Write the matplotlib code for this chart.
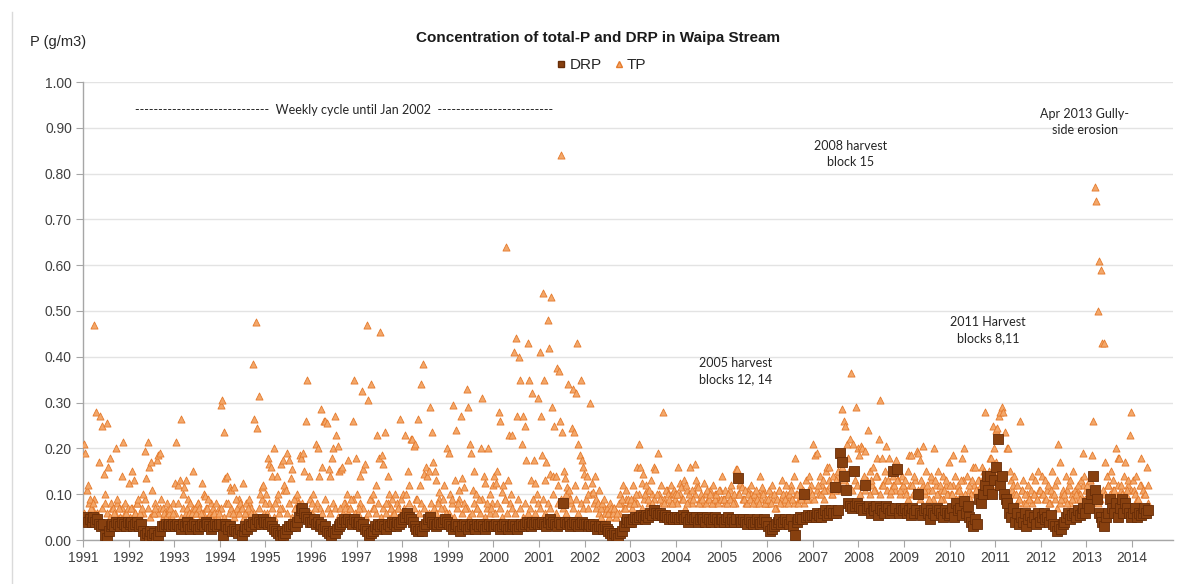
import numpy as np
import matplotlib
matplotlib.use("Agg")
import matplotlib.pyplot as plt
from matplotlib.lines import Line2D

# ---------------- data (g/m3), values in time order within each year ----------------
years = list(range(1991, 2015))
last_year_span = 0.38   # sampling in 2014 ends around April

# TP: main samples (peaks and mid values)
TP_1991 = [.21,.19,.11,.12,.09,.07,.08,.47,.28,.06,.17,.27,.25,.145,.10,.255,.16,.18,.08,.07,.06,.20,.09,.07,.05,.14,.215,.08,.06,.07]
TP_1992 = [.125,.07,.15,.13,.06,.08,.09,.06,.07,.10,.195,.135,.215,.16,.17,.11,.06,.07,.175,.185,.19,.09,.07,.06,.05,.08,.06,.07,.05,.06]
TP_1993 = [.125,.215,.12,.13,.265,.10,.115,.13,.07,.06,.08,.06,.15,.07,.06,.08,.07,.06,.125,.10,.095,.07,.09,.06,.05,.07,.06,.08,.05,.06]
TP_1994 = [.295,.305,.235,.135,.14,.08,.115,.11,.06,.115,.09,.07,.06,.08,.07,.125,.06,.08,.07,.09,.06,.385,.265,.475,.245,.315,.10,.115,.12,.08]
TP_1995 = [.10,.18,.165,.16,.14,.20,.08,.14,.10,.07,.165,.175,.12,.11,.19,.175,.135,.155,.09,.07,.10,.08,.185,.18,.19,.15,.26,.35,.14,.09]
TP_1996 = [.08,.10,.07,.21,.20,.14,.285,.16,.26,.26,.255,.155,.14,.18,.20,.27,.23,.205,.15,.155,.16,.08,.07,.10,.175,.07,.09,.26,.35,.18]
TP_1997 = [.10,.07,.14,.325,.155,.165,.47,.305,.09,.34,.10,.07,.12,.23,.18,.455,.185,.165,.235,.08,.14,.10,.07,.09,.06,.10,.08,.07,.265,.09]
TP_1998 = [.10,.23,.10,.15,.12,.22,.22,.205,.21,.09,.265,.12,.34,.385,.145,.16,.14,.15,.29,.235,.17,.15,.13,.08,.105,.07,.09,.12,.06,.20]
TP_1999 = [.19,.10,.09,.295,.13,.24,.08,.11,.27,.135,.115,.07,.33,.29,.21,.19,.11,.15,.10,.07,.09,.20,.31,.14,.125,.08,.20,.10,.07,.12]
TP_2000 = [.14,.125,.15,.28,.26,.105,.12,.09,.64,.13,.23,.10,.23,.41,.44,.27,.40,.35,.21,.27,.25,.175,.43,.35,.13,.32,.175,.125,.10,.31]
TP_2001 = [.41,.27,.185,.54,.35,.13,.17,.48,.42,.145,.53,.29,.14,.25,.14,.375,.12,.37,.26,.84,
           .235,.15,.135,.10,.115,.34,.11,.09,.245,.33,.235,.12,.32,.43,.21,.185,.35,.175,.16,.145]
TP_2002 = [.12,.14,.10,.30,.125,.105,.14,.09,.08,.11,.07,.08,.09,.06,.07,.06,.08,.07,.06,.07,.05,.06,.08,.10,.09,.12,.07,.11,.09,.08]
TP_2003 = [.09,.12,.08,.10,.16,.21,.16,.125,.145,.10,.12,.09,.11,.13,.08,.16,.155,.10,.19,.09,.12,.28,.08,.11,.10,.09,.12,.08,.11,.10]
TP_2004 = [.10,.16,.125,.115,.09,.13,.12,.08,.10,.16,.11,.09,.165,.13,.115,.08,.10,.09,.125,.08,.11,.09,.10,.08,.12,.09,.10,.08,.11,.09]
TP_2005 = [.14,.09,.11,.08,.10,.09,.12,.08,.10,.155,.155,.10,.125,.115,.09,.11,.08,.10,.09,.12,.08,.10,.11,.09,.08,.14,.115,.10,.08,.09]
TP_2006 = [.09,.11,.08,.12,.10,.07,.09,.11,.08,.13,.10,.09,.12,.08,.10,.11,.09,.14,.18,.10,.08,.12,.09,.11,.10,.13,.09,.14,.11,.10]
TP_2007 = [.21,.185,.19,.12,.14,.10,.13,.11,.15,.16,.16,.12,.10,.14,.11,.13,.15,.12,.17,.285,.26,.25,.21,.18,.22,.365,.21,.15,.29,.20]
TP_2008 = [.185,.205,.20,.14,.195,.12,.24,.15,.13,.16,.11,.14,.18,.22,.305,.18,.12,.15,.205,.13,.18,.11,.14,.12,.175,.13,.15,.11,.14,.12]
TP_2009 = [.13,.10,.15,.185,.185,.12,.14,.10,.195,.19,.175,.13,.205,.11,.15,.12,.09,.14,.11,.20,.13,.10,.15,.12,.09,.14,.11,.13,.10,.17]
TP_2010 = [.12,.10,.185,.14,.09,.12,.11,.13,.18,.20,.10,.14,.12,.09,.13,.16,.16,.11,.13,.10,.12,.16,.15,.28,.14,.12,.18,.18,.25,.20]
TP_2011 = [.24,.245,.27,.28,.29,.28,.235,.20,.20,.15,.13,.12,.14,.10,.12,.09,.26,.11,.13,.10,.08,.12,.09,.11,.14,.10,.13,.09,.15,.11]
TP_2012 = [.14,.10,.13,.09,.12,.08,.11,.15,.10,.12,.13,.21,.17,.09,.11,.10,.14,.08,.12,.13,.09,.15,.11,.10,.12,.09,.13,.19,.14,.11]
TP_2013 = [.12,.10,.13,.185,.26,.77,.74,.50,.61,.59,.43,.43,.17,.14,.12,.10,.15,.13,.11,.20,.18,.18,.12,.10,.14,.17,.11,.13,.23,.28]
TP_2014 = [.13,.10,.14,.09,.12,.18,.11,.10,.16,.12]

# TP: additional samples in the dense low cloud
TPB_1991 = [.06,.05,.08,.07,.09,.06,.05,.07,.08,.06,.05,.07,.06,.08,.05,.07,.06,.05]
TPB_1992 = [.05,.07,.06,.08,.05,.06,.09,.07,.05,.06,.08,.06,.07,.05,.06,.07,.05,.08]
TPB_1993 = [.06,.08,.05,.07,.06,.09,.05,.07,.06,.08,.05,.06,.07,.05,.08,.06,.05,.07]
TPB_1994 = [.07,.05,.08,.06,.07,.05,.06,.09,.07,.05,.06,.08,.07,.06,.05,.07,.09,.06]
TPB_1995 = [.06,.08,.07,.05,.09,.06,.07,.11,.06,.08,.05,.07,.09,.06,.08,.07,.05,.06]
TPB_1996 = [.06,.05,.08,.07,.06,.09,.07,.06,.08,.07,.05,.07,.06,.08,.06,.07,.09,.06]
TPB_1997 = [.06,.08,.07,.05,.06,.09,.07,.06,.08,.05,.07,.06,.08,.07,.06,.05,.07,.06]
TPB_1998 = [.07,.06,.08,.05,.07,.09,.06,.08,.07,.05,.06,.08,.07,.06,.09,.05,.07,.06]
TPB_1999 = [.06,.08,.05,.07,.09,.06,.08,.07,.05,.06,.08,.07,.06,.09,.05,.07,.06,.08]
TPB_2000 = [.06,.08,.07,.05,.09,.06,.08,.07,.06,.09,.07,.05,.08,.06,.07,.09,.06,.08]
TPB_2001 = [.07,.09,.06,.08,.07,.10,.06,.08,.09,.07,.06,.10,.08,.07,.09,.06,.08,.07]
TPB_2002 = [.09,.07,.10,.08,.07,.06,.05,.07,.06,.05,.06,.07,.05,.06,.08,.07,.09,.08]
TPB_2003 = [.07,.09,.08,.10,.07,.09,.11,.08,.10,.09,.07,.10,.08,.09,.11,.08,.10,.09]
TPB_2004 = [.08,.10,.09,.07,.11,.09,.08,.10,.12,.09,.08,.10,.09,.11,.08,.10,.09,.11]
TPB_2005 = [.09,.08,.10,.11,.09,.08,.10,.12,.09,.08,.11,.10,.09,.08,.10,.09,.11,.08]
TPB_2006 = [.08,.10,.09,.07,.11,.09,.08,.10,.09,.12,.08,.10,.09,.11,.08,.10,.09,.12]
TPB_2007 = [.09,.11,.10,.12,.09,.11,.13,.10,.12,.14,.11,.16,.13,.12,.15,.11,.13,.12]
TPB_2008 = [.10,.12,.11,.13,.10,.12,.11,.14,.10,.12,.13,.11,.10,.12,.11,.13,.10,.12]
TPB_2009 = [.11,.09,.12,.10,.13,.11,.09,.12,.10,.11,.13,.09,.12,.10,.11,.09,.12,.10]
TPB_2010 = [.10,.12,.09,.11,.10,.13,.09,.11,.10,.12,.11,.13,.12,.14,.13,.15,.12,.14]
TPB_2011 = [.17,.15,.13,.11,.10,.09,.11,.10,.08,.09,.11,.08,.10,.09,.08,.10,.09,.11]
TPB_2012 = [.10,.09,.11,.08,.10,.09,.07,.08,.10,.09,.11,.08,.10,.09,.11,.10,.12,.09]
TPB_2013 = [.11,.13,.09,.10,.08,.09,.11,.10,.12,.09,.11,.10,.12,.11,.09,.10,.12,.11]
TPB_2014 = [.11,.09,.12,.10,.08]

DRP_1991 = [.045,.05,.04,.045,.04,.05,.04,.045,.035,.03,.035,.01,.005,.02,.03,.035,.03,.04,.035,.03,.04,.035,.03,.04]
DRP_1992 = [.035,.04,.03,.035,.04,.03,.035,.02,.01,.015,.005,.02,.01,.015,.005,.01,.02,.03,.03,.035,.03,.035,.03,.035]
DRP_1993 = [.03,.035,.03,.025,.035,.03,.04,.03,.025,.03,.035,.03,.025,.03,.035,.03,.04,.035,.03,.025,.03,.035,.03,.035]
DRP_1994 = [.035,.01,.035,.03,.025,.03,.02,.025,.02,.015,.025,.01,.02,.03,.025,.035,.03,.04,.035,.045,.04,.035,.045,.04]
DRP_1995 = [.04,.035,.04,.03,.025,.02,.015,.01,.02,.01,.015,.025,.03,.03,.035,.03,.04,.05,.065,.07,.06,.05,.045,.04]
DRP_1996 = [.04,.045,.035,.04,.03,.035,.025,.03,.02,.015,.01,.02,.015,.025,.03,.035,.04,.045,.04,.045,.04,.035,.045,.04]
DRP_1997 = [.035,.04,.03,.035,.025,.02,.01,.015,.02,.03,.025,.035,.03,.035,.03,.025,.035,.03,.04,.035,.03,.04,.035,.04]
DRP_1998 = [.045,.05,.06,.05,.045,.04,.03,.025,.02,.025,.02,.03,.035,.045,.05,.04,.035,.03,.035,.04,.035,.04,.045,.04]
DRP_1999 = [.035,.03,.025,.03,.035,.03,.02,.03,.035,.03,.025,.03,.035,.03,.025,.035,.03,.035,.03,.025,.03,.035,.03,.03]
DRP_2000 = [.03,.035,.03,.025,.03,.035,.03,.025,.03,.03,.035,.03,.025,.03,.035,.03,.035,.04,.035,.03,.04,.035,.04,.035]
DRP_2001 = [.035,.04,.035,.03,.04,.045,.035,.04,.035,.03,.04,.035,.08,.04,.035,.04,.03,.035,.04,.035,.03,.035,.04,.035]
DRP_2002 = [.035,.03,.035,.03,.035,.03,.025,.03,.03,.025,.03,.025,.02,.015,.01,.015,.01,.005,.015,.02,.03,.04,.045,.04]
DRP_2003 = [.04,.045,.05,.045,.05,.055,.05,.045,.055,.05,.06,.055,.065,.06,.055,.06,.055,.05,.055,.05,.045,.05,.045,.05]
DRP_2004 = [.05,.045,.05,.055,.045,.05,.04,.045,.05,.045,.05,.04,.045,.05,.045,.04,.05,.045,.04,.045,.05,.045,.04,.045]
DRP_2005 = [.045,.04,.045,.05,.04,.045,.04,.045,.135,.045,.04,.045,.04,.035,.045,.04,.035,.04,.045,.04,.035,.04,.045,.04]
DRP_2006 = [.03,.02,.025,.03,.035,.04,.045,.035,.04,.045,.04,.035,.045,.03,.01,.04,.045,.05,.045,.10,.05,.055,.05,.055]
DRP_2007 = [.055,.05,.06,.055,.05,.06,.065,.055,.06,.065,.06,.115,.06,.065,.19,.17,.14,.11,.08,.075,.07,.15,.075,.08]
DRP_2008 = [.075,.07,.065,.12,.07,.075,.06,.07,.065,.075,.055,.07,.065,.06,.075,.07,.06,.065,.15,.07,.155,.06,.07,.065]
DRP_2009 = [.07,.06,.065,.055,.07,.06,.065,.10,.06,.055,.065,.07,.06,.045,.065,.06,.055,.07,.065,.06,.05,.065,.06,.055]
DRP_2010 = [.06,.07,.05,.08,.065,.07,.055,.085,.06,.075,.05,.04,.03,.045,.035,.09,.08,.10,.12,.14,.11,.14,.10,.13]
DRP_2011 = [.16,.22,.12,.14,.10,.09,.08,.06,.05,.07,.04,.06,.035,.05,.04,.06,.03,.045,.055,.04,.05,.035,.06,.04]
DRP_2012 = [.05,.06,.045,.05,.04,.055,.035,.03,.02,.03,.025,.035,.04,.05,.06,.045,.055,.06,.05,.065,.055,.06,.07,.06]
DRP_2013 = [.08,.07,.10,.14,.11,.09,.06,.05,.04,.03,.05,.06,.09,.07,.06,.08,.05,.07,.09,.06,.08,.07,.06,.05]
DRP_2014 = [.06,.07,.05,.06,.055,.06,.07,.06,.065]

tp_by_year = [TP_1991, TP_1992, TP_1993, TP_1994, TP_1995, TP_1996, TP_1997, TP_1998,
              TP_1999, TP_2000, TP_2001, TP_2002, TP_2003, TP_2004, TP_2005, TP_2006,
              TP_2007, TP_2008, TP_2009, TP_2010, TP_2011, TP_2012, TP_2013, TP_2014]
tpb_by_year = [TPB_1991, TPB_1992, TPB_1993, TPB_1994, TPB_1995, TPB_1996, TPB_1997, TPB_1998,
               TPB_1999, TPB_2000, TPB_2001, TPB_2002, TPB_2003, TPB_2004, TPB_2005, TPB_2006,
               TPB_2007, TPB_2008, TPB_2009, TPB_2010, TPB_2011, TPB_2012, TPB_2013, TPB_2014]
drp_by_year = [DRP_1991, DRP_1992, DRP_1993, DRP_1994, DRP_1995, DRP_1996, DRP_1997, DRP_1998,
               DRP_1999, DRP_2000, DRP_2001, DRP_2002, DRP_2003, DRP_2004, DRP_2005, DRP_2006,
               DRP_2007, DRP_2008, DRP_2009, DRP_2010, DRP_2011, DRP_2012, DRP_2013, DRP_2014]

y_ticks = [0.0, 0.1, 0.2, 0.3, 0.4, 0.5, 0.6, 0.7, 0.8, 0.9, 1.0]


def sample_times(year, n):
    span = last_year_span if year == years[-1] else 1.0
    return year + (np.arange(n) + 0.5) / n * span


def flatten(*series_lists):
    xs, ys = [], []
    for series_by_year in series_lists:
        for yr, vals in zip(years, series_by_year):
            xs.append(sample_times(yr, len(vals)))
            ys.append(np.asarray(vals, dtype=float))
    return np.concatenate(xs), np.concatenate(ys)


tp_x, tp_y = flatten(tpb_by_year, tp_by_year)
drp_x, drp_y = flatten(drp_by_year)

# ---------------- figure ----------------
W, H, DPI = 1203, 584, 100
fig = plt.figure(figsize=(W / DPI, H / DPI), dpi=DPI, facecolor="white")
ax = fig.add_axes([83 / W, 1 - 540 / H, (1173 - 83) / W, (540 - 82) / H])

tick_font = "Liberation Sans"
note_font = "Lato"
txt_col = "#404040"

tp_face, tp_edge = "#F3A76A", "#E57A2C"
drp_face, drp_edge = "#87400F", "#672C07"

ax.scatter(tp_x, tp_y, marker="^", s=26, facecolor=tp_face, edgecolor=tp_edge,
           linewidth=0.6, zorder=3, label="TP")
ax.scatter(drp_x, drp_y, marker="s", s=42, facecolor=drp_face, edgecolor=drp_edge,
           linewidth=0.6, zorder=4, label="DRP")

ax.set_xlim(1991, 2014.9)
ax.set_ylim(0, 1.0)
ax.set_xticks(years)
ax.set_xticklabels([str(y) for y in years], fontsize=10, family=tick_font, color=txt_col)
ax.set_yticks(y_ticks)
ax.set_yticklabels([f"{v:.2f}" for v in y_ticks], fontsize=10, family=tick_font, color=txt_col)
ax.tick_params(axis="both", direction="out", length=5, width=0.8, color="#A6A6A6", pad=3)
ax.grid(axis="y", color="#E3E3E3", linewidth=1.0, zorder=0)
ax.set_axisbelow(True)
for side in ("top", "right"):
    ax.spines[side].set_visible(False)
for side in ("left", "bottom"):
    ax.spines[side].set_color("#A6A6A6")
    ax.spines[side].set_linewidth(1.0)

# title, axis label, legend
fig.text(598 / W, 1 - 38 / H, "Concentration of total-P and DRP in Waipa Stream",
         ha="center", va="center", fontsize=11, fontweight="bold", family=tick_font, color="#1a1a1a")
fig.text(30 / W, 1 - 42 / H, "P (g/m3)", ha="left", va="center", fontsize=10.5,
         family=tick_font, color="#262626")

handles = [Line2D([], [], marker="s", linestyle="none", markersize=4.5, markerfacecolor=drp_face,
                  markeredgecolor=drp_edge, label="DRP"),
           Line2D([], [], marker="^", linestyle="none", markersize=4.5, markerfacecolor=tp_face,
                  markeredgecolor=tp_edge, label="TP")]
fig.legend(handles=handles, loc="center", bbox_to_anchor=(600 / W, 1 - 65 / H), ncol=2,
           frameon=False, prop={"family": tick_font, "size": 11}, handletextpad=0.05,
           columnspacing=0.6, handlelength=1.0, labelcolor="#262626")

# annotations
note_kw = dict(ha="center", va="center", fontsize=9, family=note_font, color="#262626")
dash_l = "-" * 29
dash_r = "-" * 25
ax.text(1996.72, 0.939, f"{dash_l}  Weekly cycle until Jan 2002  {dash_r}", **note_kw)
ax.text(2007.82, 0.843, "2008 harvest\nblock 15", linespacing=1.45, **note_kw)
ax.text(2012.97, 0.913, "Apr 2013 Gully-\nside erosion", linespacing=1.45, **note_kw)
ax.text(2010.85, 0.459, "2011 Harvest\nblocks 8,11", linespacing=1.45, **note_kw)
ax.text(2005.30, 0.369, "2005 harvest\nblocks 12, 14", linespacing=1.45, **note_kw)

# faint chart-area border on the left, as in the screenshot
fig.add_artist(Line2D([12 / W, 12 / W], [0, 1 - 12 / H], color="#DADADA", linewidth=1.0))

fig.savefig("out.png", dpi=DPI, facecolor="white")
